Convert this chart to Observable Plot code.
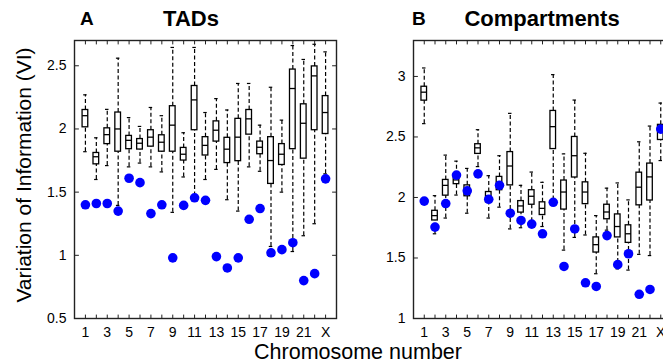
<!DOCTYPE html>
<html><head><meta charset="utf-8">
<script src="https://cdn.jsdelivr.net/npm/d3@7"></script>
<script src="https://cdn.jsdelivr.net/npm/@observablehq/plot@0.6"></script>
<style>
body{margin:0;background:#fff;}
#wrap{position:relative;width:663px;height:364px;overflow:hidden;font-family:"Liberation Sans",Arial,sans-serif;}
#wrap svg{position:absolute;top:0;}
.t{position:absolute;white-space:nowrap;color:#000;line-height:1;}
.b{font-weight:bold;}
</style></head><body>
<div id="wrap">
  <div class="t b" style="left:80px;top:9px;font-size:19px;">A</div>
  <div class="t b" style="left:191px;top:8px;font-size:22px;transform:translateX(-50%);">TADs</div>
  <div class="t b" style="left:412px;top:9px;font-size:19px;">B</div>
  <div class="t b" style="left:542px;top:8px;font-size:22px;transform:translateX(-50%);">Compartments</div>
  <div class="t" style="left:358px;top:342px;font-size:21.5px;line-height:0.95;transform:translateX(-50%);">Chromosome number</div>
  <div class="t" style="left:23px;top:175px;font-size:21px;transform:translate(-50%,-50%) rotate(-90deg);">Variation of Information (VI)</div>
</div>
<script>
const chromosomes = ["1","2","3","4","5","6","7","8","9","10","11","12","13","14","15","16","17","18","19","20","21","22","X"];
const xTickLabels = ["1","3","5","7","9","11","13","15","17","19","21","X"];

// Panel A: TADs
const tadLo  = [1.82,1.60,1.71,1.395,1.70,1.73,1.70,1.66,1.34,1.62,1.47,1.60,1.68,1.44,1.35,1.70,1.665,1.07,1.50,1.03,1.155,1.25,1.645];
const tadQ1  = [2.013,1.72,1.88,1.82,1.84,1.837,1.86,1.82,1.82,1.75,1.99,1.79,1.90,1.73,1.745,1.955,1.80,1.565,1.715,1.84,1.765,1.99,1.96];
const tadMed = [2.105,1.78,1.955,2.0,1.91,1.887,1.935,1.895,2.03,1.80,2.23,1.87,1.99,1.84,1.935,2.08,1.855,1.75,1.80,2.32,2.045,2.42,2.13];
const tadQ3  = [2.15,1.81,2.005,2.13,1.945,1.92,1.99,1.95,2.18,1.85,2.34,1.935,2.06,1.93,2.08,2.15,1.90,1.935,1.88,2.47,2.195,2.495,2.26];
const tadHi  = [2.27,1.93,2.155,2.56,2.09,2.02,2.17,2.105,2.645,1.97,2.645,2.13,2.24,2.15,2.36,2.36,2.03,2.33,2.07,2.66,2.55,2.67,2.61];
const tadDot = [1.40,1.41,1.41,1.35,1.61,1.575,1.33,1.40,0.98,1.395,1.455,1.435,0.99,0.90,0.98,1.285,1.37,1.02,1.045,1.10,0.80,0.855,1.605];
const tadYTicks = [0.5,1,1.5,2,2.5];

// Panel B: Compartments
const cmpLo  = [2.61,1.70,1.83,2.02,1.87,2.255,1.83,1.92,1.74,1.75,1.80,1.76,1.98,1.565,1.67,1.69,1.37,1.73,1.41,1.40,1.53,1.52,2.305];
const cmpQ1  = [2.80,1.81,2.015,2.11,2.01,2.36,1.96,2.06,2.10,1.875,1.94,1.855,2.40,1.90,2.165,1.945,1.545,1.82,1.67,1.625,1.935,1.975,2.475];
const cmpMed = [2.87,1.85,2.10,2.145,2.05,2.41,2.015,2.125,2.26,1.93,2.01,1.91,2.585,2.045,2.345,2.045,1.61,1.88,1.76,1.70,2.085,2.17,2.56];
const cmpQ3  = [2.915,1.89,2.145,2.18,2.10,2.44,2.045,2.17,2.375,1.97,2.06,1.96,2.715,2.14,2.50,2.125,1.67,1.94,1.86,1.77,2.205,2.28,2.60];
const cmpHi  = [3.07,2.015,2.35,2.30,2.24,2.56,2.18,2.345,2.695,2.10,2.21,2.125,3.015,2.36,2.805,2.365,1.85,2.077,2.12,1.98,2.46,2.59,2.78];
const cmpDot = [1.97,1.755,1.95,2.185,2.055,2.195,1.985,2.10,1.87,1.81,1.78,1.70,1.96,1.43,1.74,1.295,1.265,1.685,1.445,1.535,1.20,1.24,2.565];
const cmpYTicks = [1,1.5,2,2.5,3];

const tickShape = {draw(context, l){ context.moveTo(0,0); context.lineTo(0,-l); }};

function panel(lo,q1,med,q3,hi,dot,yDomain,yTicks,left,width,marginLeft,marginRight){
  const data = chromosomes.map((c,i)=>({i:i+1,c,lo:lo[i],q1:q1[i],med:med[i],q3:q3[i],hi:hi[i],dot:dot[i]}));
  const idx = chromosomes.map((c,i)=>i+1);
  const labIdx = xTickLabels.map(l=>chromosomes.indexOf(l)+1);
  const bw = 0.26, cw = 0.16;
  const k = "#000";
  const tk = {shape:tickShape, length:3.5, anchor:"start", stroke:"#222", strokeWidth:1};
  const svg = Plot.plot({
    width, height:364, marginLeft, marginRight, marginTop:40, marginBottom:46,
    x:{domain:[0,24], ticks:labIdx, tickSize:0, tickPadding:9, tickFormat:d=>chromosomes[d-1], label:null},
    y:{domain:yDomain, ticks:yTicks, tickSize:0, tickPadding:8, tickFormat:d=>String(d), label:null},
    style:{fontFamily:'"Liberation Sans",Arial,sans-serif', fontSize:"14px", color:"#000", background:"transparent", overflow:"visible"},
    marks:[
      Plot.ruleX(data,{x:"i",y1:"lo",y2:"q1",stroke:k,strokeWidth:1.2,strokeDasharray:"4,2.5"}),
      Plot.ruleX(data,{x:"i",y1:"q3",y2:"hi",stroke:k,strokeWidth:1.2,strokeDasharray:"4,2.5"}),
      Plot.ruleY(data,{y:"lo",x1:d=>d.i-cw,x2:d=>d.i+cw,stroke:k,strokeWidth:1.2}),
      Plot.ruleY(data,{y:"hi",x1:d=>d.i-cw,x2:d=>d.i+cw,stroke:k,strokeWidth:1.2}),
      Plot.rect(data,{x1:d=>d.i-bw,x2:d=>d.i+bw,y1:"q1",y2:"q3",stroke:k,strokeWidth:1.3,fill:"none"}),
      Plot.ruleY(data,{y:"med",x1:d=>d.i-bw,x2:d=>d.i+bw,stroke:k,strokeWidth:1.3}),
      Plot.dot(data,{x:"i",y:"dot",r:4.8,fill:"#0000ff",stroke:null}),
      Plot.frame({stroke:"#222",strokeWidth:1.4}),
      Plot.vector(idx,{x:d=>d,frameAnchor:"bottom",rotate:0,...tk}),
      Plot.vector(idx,{x:d=>d,frameAnchor:"top",rotate:180,...tk}),
      Plot.vector(yTicks,{y:d=>d,frameAnchor:"left",rotate:90,...tk,length:4}),
      Plot.vector(yTicks,{y:d=>d,frameAnchor:"right",rotate:-90,...tk,length:4})
    ]
  });
  svg.style.left = left+"px";
  document.getElementById("wrap").appendChild(svg);
}

panel(tadLo,tadQ1,tadMed,tadQ3,tadHi,tadDot,[0.5,2.7],tadYTicks,0,350,74,14);
panel(cmpLo,cmpQ1,cmpMed,cmpQ3,cmpHi,cmpDot,[1,3.297],cmpYTicks,340,345,73,14);
</script>
</body></html>
